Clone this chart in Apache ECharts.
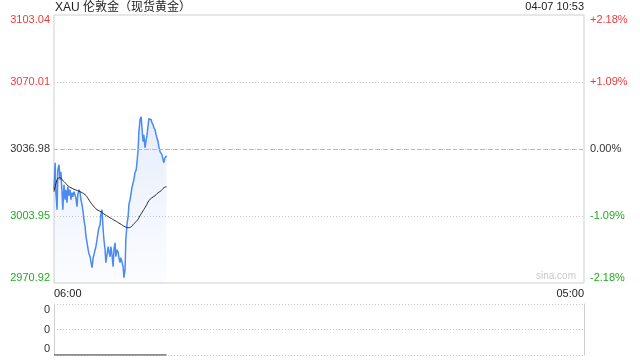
<!DOCTYPE html>
<html><head><meta charset="utf-8">
<script src="https://cdn.jsdelivr.net/npm/echarts@6/dist/echarts.min.js"></script>
<style>html,body{margin:0;padding:0;background:#fff}#c{width:640px;height:360px}</style>
</head><body><div id="c"></div>
<script>
const titleText = 'XAU 伦敦金（现货黄金）';
const stampText = '04-07 10:53';
const watermark = 'sina.com';
const prevClose = 3036.98;
const priceTicks = [2970.92, 3003.95, 3036.98, 3070.01, 3103.04];
const pctTicks = ['-2.18%', '-1.09%', '0.00%', '+1.09%', '+2.18%'];
const timeLabels = ['06:00', '05:00'];
const sessionMinutes = 1380;
const volTicks = ['0', '0', '0'];

// minutes after 06:00
const minutes = [0,3,5,8,10,13,16,18,21,23,26,29,31,34,36,39,42,44,47,49,52,55,57,60,62,65,68,70,73,76,78,81,83,86,89,91,94,96,99,102,104,107,109,112,115,117,120,122,125,128,130,133,135,138,141,143,146,148,151,154,156,159,161,164,167,169,172,174,177,180,182,185,187,190,193,195,198,201,203,206,208,211,214,216,219,221,224,227,229,232,234,237,240,242,245,247,250,253,255,258,260,263,266,268,271,273,276,279,281,284,286,289,292,293];
const prices = [3016.91,3030.23,3015.44,3007.05,3026.77,3029.24,3021.84,3025.79,3015.44,3007.05,3019.38,3011.98,3016.91,3010.51,3018.39,3013.96,3016.91,3011.98,3015.44,3013.46,3015.93,3016.91,3012.97,3008.53,3014.45,3016.91,3015.44,3011.98,3009.52,3005.58,3002.12,2998.67,2994.24,2990.79,2987.33,2985.36,2983.88,2981.42,2978.46,2983.39,2984.87,2987.33,2988.81,2992.26,2996.21,2998.18,2999.66,3004.59,3007.05,2997.19,2992.26,2987.33,2980.93,2984.87,2988.81,2986.35,2983.88,2988.81,2984.87,2978.95,2987.33,2990.79,2983.88,2987.33,2986.10,2983.39,2980.93,2983.39,2981.42,2978.95,2973.53,2977.47,2992.26,2999.66,3003.60,3009.52,3011.98,3015.44,3017.90,3020.37,3021.84,3025.30,3026.77,3030.23,3036.63,3045.51,3051.42,3052.90,3047.48,3040.58,3044.03,3037.62,3041.56,3043.54,3048.47,3051.92,3052.90,3051.42,3049.95,3048.96,3047.48,3046.49,3044.03,3042.55,3040.58,3038.11,3035.65,3036.63,3034.17,3031.70,3030.23,3032.69,3033.18,3033.68];

const maMinutes = [0,5,10,16,21,29,36,44,55,68,81,89,94,102,112,122,133,146,159,172,185,193,201,208,216,224,232,240,247,255,263,271,279,286,293];
const maValues = [3015.93,3019.87,3022.34,3022.83,3021.84,3020.37,3018.89,3017.90,3016.91,3015.93,3014.45,3012.48,3011.00,3009.03,3007.05,3006.07,3004.59,3003.11,3001.63,3000.15,2998.67,2998.18,2998.67,3000.15,3001.63,3004.10,3006.56,3009.03,3011.49,3012.97,3013.96,3015.44,3016.42,3017.90,3018.39];

const volMinutes = [0, 293];
const volumes = [0, 0];

const RED = '#f03a3a', GREEN = '#22aa22', DARK = '#333';
const FS = 11;
const richSet = {
  r: {color: RED, fontSize: FS}, rt: {color: RED, fontSize: FS, padding: [10,0,0,0]},
  g: {color: GREEN, fontSize: FS}, gb: {color: GREEN, fontSize: FS, padding: [0,0,10,0]},
  k: {color: DARK, fontSize: FS},
  kt: {color: DARK, fontSize: FS, padding: [12,0,0,0]}, kb: {color: DARK, fontSize: FS, padding: [0,0,12,0]}
};
function styleKey(idx, n) {
  const mid = (n - 1) / 2;
  let c = idx > mid ? 'r' : (idx < mid ? 'g' : 'k');
  if (idx === n - 1) return c === 'r' ? 'rt' : c;
  if (idx === 0) return c === 'g' ? 'gb' : c;
  return c;
}
const priceInterval = +(priceTicks[1] - priceTicks[0]).toFixed(2);

const chart = echarts.init(document.getElementById('c'), null, {renderer: 'canvas'});
chart.setOption({
  animation: false,
  textStyle: {fontFamily: 'Liberation Sans, Arial, sans-serif'},
  title: [
    {text: titleText, left: 55, top: 1, padding: 0,
     textStyle: {fontSize: 12, fontWeight: 'normal', color: '#222', lineHeight: 13, fontFamily: 'Liberation Sans, Noto Sans CJK SC, sans-serif'}},
    {text: stampText, right: 56, top: 1, padding: 0,
     textStyle: {fontSize: 11, fontWeight: 'normal', color: '#222', lineHeight: 12}}
  ],
  graphic: [{type: 'text', right: 64, top: 271, silent: true,
    style: {text: watermark, fill: '#c8c8c8', fontSize: 10, fontFamily: 'Liberation Sans, Arial, sans-serif'}}],
  grid: [
    {left: 54, right: 56, top: 15, height: 268, show: true, borderColor: '#cfcfcf', borderWidth: 1, containLabel: false},
    {left: 54, right: 56, top: 304, height: 51, show: false, containLabel: false}
  ],
  xAxis: [
    {type: 'value', gridIndex: 0, min: 0, max: sessionMinutes, interval: sessionMinutes,
     axisLine: {show: false}, axisTick: {show: false}, splitLine: {show: false},
     axisLabel: {color: '#222', fontSize: FS, margin: 5, alignMinLabel: 'left', alignMaxLabel: 'right',
       formatter: v => v === 0 ? timeLabels[0] : timeLabels[1]}},
    {type: 'value', gridIndex: 1, min: 0, max: sessionMinutes, interval: sessionMinutes,
     axisLine: {show: false}, axisTick: {show: false}, splitLine: {show: false}, axisLabel: {show: false}}
  ],
  yAxis: [
    {type: 'value', gridIndex: 0, position: 'left', min: priceTicks[0], max: priceTicks[4], interval: priceInterval,
     axisLine: {show: false}, axisTick: {show: false},
     splitLine: {show: true, showMinLine: false, showMaxLine: false, lineStyle: {color: '#c8c8c8', type: [1, 2], width: 1}},
     axisLabel: {margin: 4, rich: richSet, formatter: v => {
       const i = Math.round((v - priceTicks[0]) / priceInterval);
       return '{' + styleKey(i, priceTicks.length) + '|' + priceTicks[i].toFixed(2) + '}';
     }}},
    {type: 'value', gridIndex: 0, position: 'right', min: -2.18, max: 2.18, interval: 1.09,
     axisLine: {show: false}, axisTick: {show: false}, splitLine: {show: false},
     axisLabel: {margin: 6, rich: richSet, formatter: v => {
       const i = Math.round((v + 2.18) / 1.09);
       return '{' + styleKey(i, pctTicks.length) + '|' + pctTicks[i] + '}';
     }}},
    {type: 'value', gridIndex: 1, position: 'left', min: 0, max: 1, interval: 0.5,
     axisLine: {show: true, lineStyle: {color: '#cfcfcf'}}, axisTick: {show: false},
     splitLine: {show: true, lineStyle: {color: '#c8c8c8', type: [1, 2], width: 1}},
     axisLabel: {margin: 4, rich: richSet, formatter: v => {
       const i = Math.round(v / 0.5);
       const key = i === 2 ? 'kt' : (i === 0 ? 'kb' : 'k');
       return '{' + key + '|' + volTicks[i] + '}';
     }}},
    {type: 'value', gridIndex: 1, position: 'right', min: 0, max: 1, interval: 0.5,
     axisLine: {show: true, lineStyle: {color: '#cfcfcf'}}, axisTick: {show: false},
     splitLine: {show: false}, axisLabel: {show: false}}
  ],
  series: [
    {type: 'line', xAxisIndex: 0, yAxisIndex: 0, showSymbol: false, smooth: false,
     data: minutes.map((m, i) => [m, prices[i]]),
     lineStyle: {color: '#4a8af2', width: 1.5},
     areaStyle: {origin: 'start', color: new echarts.graphic.LinearGradient(0, 0, 0, 1, [
       {offset: 0, color: 'rgba(90,140,235,0.22)'}, {offset: 1, color: 'rgba(90,140,235,0.03)'}])},
     markLine: {silent: true, symbol: 'none', label: {show: false},
       lineStyle: {color: '#b8b8b8', type: [4, 3], width: 1},
       data: [{yAxis: prevClose}]}},
    {type: 'line', xAxisIndex: 0, yAxisIndex: 0, showSymbol: false, smooth: true,
     data: maMinutes.map((m, i) => [m, maValues[i]]),
     lineStyle: {color: '#222', width: 1}},
    {type: 'line', xAxisIndex: 1, yAxisIndex: 2, showSymbol: false,
     data: volMinutes.map((m, i) => [m, volumes[i]]),
     lineStyle: {color: '#666', width: 1.5}}
  ]
});
</script>
</body></html>
